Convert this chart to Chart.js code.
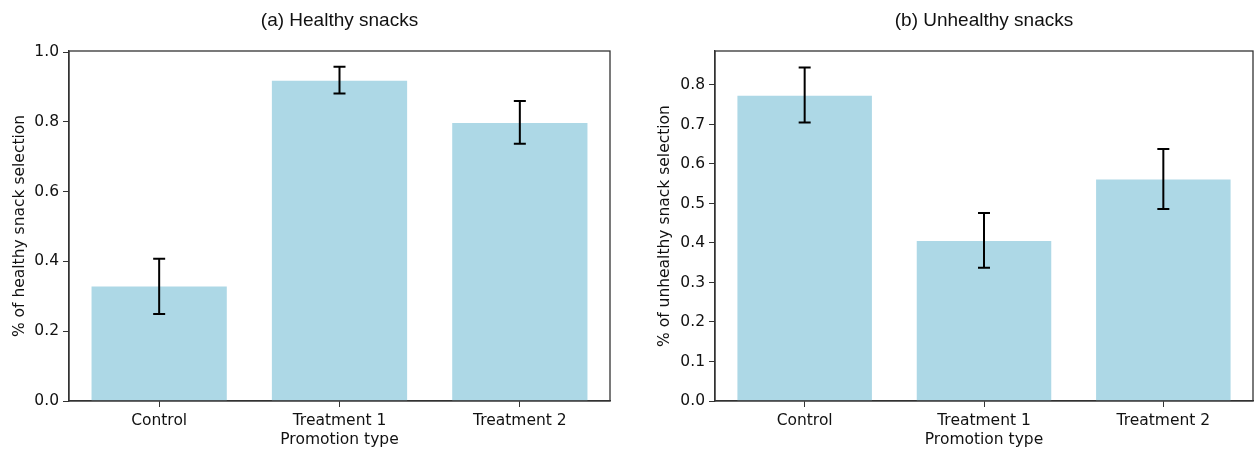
<!DOCTYPE html>
<html>
<head>
  <meta charset="UTF-8">
  <title>Snack promotion</title>
  <script src="https://cdn.jsdelivr.net/npm/chart.js"></script>
  <style>
    body { margin: 0; background: #fff; }
    canvas { position: absolute; top: 0; }
    #healthy { left: 0; }
    #unhealthy { left: 627px; }
  </style>
</head>
<body>
  <canvas id="healthy" width="627" height="449"></canvas>
  <canvas id="unhealthy" width="627" height="449"></canvas>

  <script>
    const categories = ['Control', 'Treatment 1', 'Treatment 2'];

    const healthyMean = [0.328, 0.918, 0.797];
    const healthyLow  = [0.249, 0.881, 0.737];
    const healthyHigh = [0.408, 0.958, 0.860];
    const healthyTicks = [0, 0.2, 0.4, 0.6, 0.8, 1.0];

    const unhealthyMean = [0.773, 0.405, 0.561];
    const unhealthyLow  = [0.705, 0.337, 0.486];
    const unhealthyHigh = [0.844, 0.476, 0.638];
    const unhealthyTicks = [0, 0.1, 0.2, 0.3, 0.4, 0.5, 0.6, 0.7, 0.8];

    const FONT = 'DejaVu Sans';
    const TITLE_FONT = 'Liberation Sans';
    const INK = '#111';
    const AXIS = '#333';

    // error bars + full box around the plot, like matplotlib
    const errorBars = {
      id: 'errorBars',
      afterDatasetsDraw(chart) {
        const ctx = chart.ctx;
        const y = chart.scales.y;
        const meta = chart.getDatasetMeta(0);
        const ds = chart.data.datasets[0];
        ctx.save();
        ctx.strokeStyle = '#000';
        ctx.lineWidth = 2;
        meta.data.forEach((bar, i) => {
          const top = y.getPixelForValue(ds.high[i]);
          const bot = y.getPixelForValue(ds.low[i]);
          ctx.beginPath();
          ctx.moveTo(bar.x, top); ctx.lineTo(bar.x, bot);
          ctx.moveTo(bar.x - 6, top); ctx.lineTo(bar.x + 6, top);
          ctx.moveTo(bar.x - 6, bot); ctx.lineTo(bar.x + 6, bot);
          ctx.stroke();
        });
        const a = chart.chartArea;
        ctx.strokeStyle = AXIS;
        ctx.lineWidth = 1.3;
        ctx.strokeRect(a.left, a.top, a.right - a.left, a.bottom - a.top);
        ctx.restore();
      }
    };

    function makeChart(id, title, yTitle, mean, low, high, ticks, yMax, yWidth, yTitlePad, rightPad) {
      return new Chart(document.getElementById(id), {
        type: 'bar',
        data: {
          labels: categories,
          datasets: [{
            data: mean,
            low: low,
            high: high,
            backgroundColor: '#ADD8E6',
            categoryPercentage: 1,
            barPercentage: 0.75
          }]
        },
        options: {
          responsive: false,
          animation: false,
          layout: { padding: { left: 0, right: rightPad, top: 0, bottom: 0 } },
          plugins: {
            legend: { display: false },
            tooltip: { enabled: false },
            title: {
              display: true,
              text: title,
              fullSize: false,
              color: INK,
              font: { family: TITLE_FONT, size: 19, weight: 'normal' },
              padding: { top: 9.6, bottom: 18.6 }
            }
          },
          scales: {
            x: {
              grid: { drawOnChartArea: false, offset: false, tickLength: 6, tickColor: AXIS },
              border: { color: AXIS, width: 1.3 },
              ticks: { color: INK, padding: 5, font: { family: FONT, size: 15.5 } },
              title: {
                display: true, text: 'Promotion type', color: INK,
                font: { family: FONT, size: 15.5 }, padding: { top: -2, bottom: 0 }
              },
              afterFit: s => { s.height = 48; }
            },
            y: {
              min: 0,
              max: yMax,
              grid: { drawOnChartArea: false, tickLength: 6, tickColor: AXIS },
              border: { color: AXIS, width: 1.3 },
              ticks: {
                color: INK, padding: 4, font: { family: FONT, size: 15.5 },
                callback: v => v.toFixed(1)
              },
              afterBuildTicks: s => { s.ticks = ticks.map(v => ({ value: v })); },
              title: {
                display: true, text: yTitle, color: INK,
                font: { family: FONT, size: 15.5 }, padding: { top: yTitlePad, bottom: 0 }
              },
              afterFit: s => { s.width = yWidth; }
            }
          }
        },
        plugins: [errorBars]
      });
    }

    makeChart('healthy', '(a) Healthy snacks', '% of healthy snack selection',
      healthyMean, healthyLow, healthyHigh, healthyTicks, 1.003, 69, 11, 17);
    makeChart('unhealthy', '(b) Unhealthy snacks', '% of unhealthy snack selection',
      unhealthyMean, unhealthyLow, unhealthyHigh, unhealthyTicks, 0.886, 88, 29, 1);
  </script>
</body>
</html>
